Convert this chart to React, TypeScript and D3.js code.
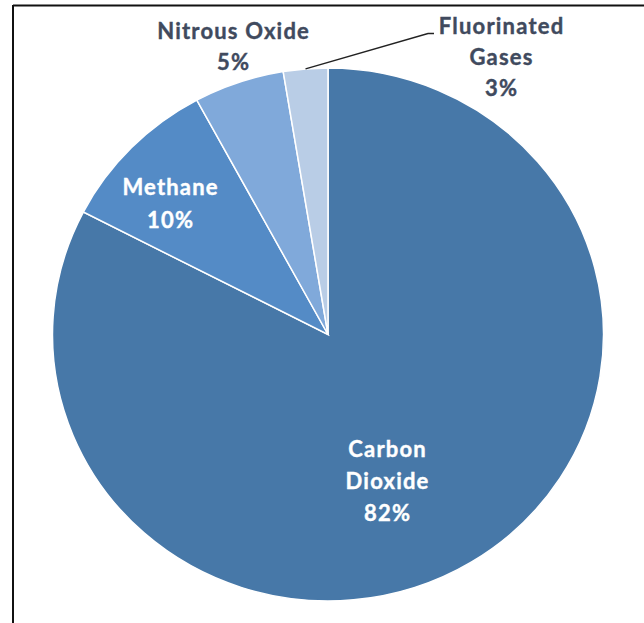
import React from "react";
import * as d3 from "d3";

const categories = ["Carbon Dioxide", "Methane", "Nitrous Oxide", "Fluorinated Gases"];
const values = [82.6, 9.5, 5.3, 2.6];
const percentLabels = ["82%", "10%", "5%", "3%"];
const labelLines = [["Carbon", "Dioxide"], ["Methane"], ["Nitrous Oxide"], ["Fluorinated", "Gases"]];
const colors = ["#4778A8", "#548BC6", "#80A9DA", "#B9CDE6"];

const W = 644;
const H = 623;
const CX = 328;
const CY = 334.5;
const RX = 275.5;
const RY = 266.5;

const labelPos = [
  { x: 387, y: 456.5, inside: true, lh: 32 },
  { x: 170, y: 194.5, inside: true, lh: 33 },
  { x: 233, y: 39, inside: false, lh: 30.5 },
  { x: 501, y: 34, inside: false, lh: 31 },
];

export default function App() {
  const pie = d3.pie<number>().sort(null).value((d) => d);
  const arcs = pie(values);
  const arcGen = d3.arc<d3.PieArcDatum<number>>().innerRadius(0).outerRadius(RX);
  const sy = RY / RX;

  const fArc = arcs[3];
  const mid = (fArc.startAngle + fArc.endAngle) / 2;
  const lx0 = CX + Math.sin(mid) * RX;
  const ly0 = CY - Math.cos(mid) * RY;

  return (
    <svg
      width={W}
      height={H}
      style={{ position: "absolute", left: 0, top: 0, display: "block", background: "#fff" }}
    >
      <rect x={0} y={0} width={W} height={H} fill="#fff" />
      <line x1={13} y1={5.5} x2={W} y2={5.5} stroke="#111" strokeWidth={2} />
      <line x1={13} y1={5} x2={13} y2={H} stroke="#111" strokeWidth={2} />
      <g transform={`translate(${CX},${CY}) scale(1,${sy})`}>
        {arcs.map((a, i) => (
          <path
            key={categories[i]}
            d={arcGen(a) || ""}
            fill={colors[i]}
            stroke="#fff"
            strokeWidth={1.5}
            vectorEffect="non-scaling-stroke"
          />
        ))}
      </g>
      <polyline
        points={`${lx0},${ly0} ${428},${33.5} ${434},${33.5}`}
        fill="none"
        stroke="#222"
        strokeWidth={1.5}
      />
      {labelPos.map((p, i) => {
        const lines = [...labelLines[i], percentLabels[i]];
        const fill = p.inside ? "#ffffff" : "#404a5e";
        return (
          <text
            key={categories[i]}
            textAnchor="middle"
            fontFamily="Lato, 'Open Sans', sans-serif"
            fontWeight={700}
            fontSize={22}
            letterSpacing={1.2}
            fill={fill}
            stroke={fill}
            strokeWidth={0.4}
          >
            {lines.map((l, j) => (
              <tspan key={j} x={p.x + 0.6} y={p.y + j * p.lh}>
                {l}
              </tspan>
            ))}
          </text>
        );
      })}
    </svg>
  );
}
